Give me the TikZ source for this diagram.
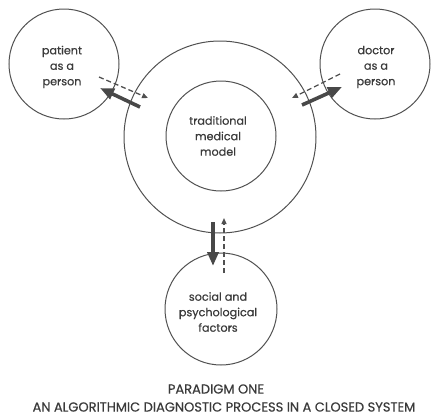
\documentclass[tikz,border=0pt]{standalone}
\usepackage{fontspec}
\setmainfont{Poppins}
\newfontfamily\lblfont{Poppins}[FakeBold=0.5]
\usetikzlibrary{arrows.meta}
\definecolor{ink}{HTML}{505050}
\definecolor{txt}{HTML}{3A3A3A}
\begin{document}
\begin{tikzpicture}[x=1pt,y=-1pt,
  ring/.style={draw=ink,line width=1pt,circle,inner sep=0pt},
  lbl/.style={align=center,text=txt,font=\lblfont\fontsize{11.2}{15.5}\selectfont},
  titletext/.style={text=txt,font=\lblfont\fontsize{13}{15}\selectfont},
  bigarrow/.style={draw=ink!90!black,line width=3.6pt,-{Triangle[length=14pt,width=11pt]}},
  dasharrow/.style={draw=ink,line width=1.3pt,dash pattern=on 5pt off 3pt,-{Triangle[length=6pt,width=5pt]}}]
\useasboundingbox (0,0) rectangle (431,418);
\node[ring,minimum size=110pt] (patient) at (64,64) {};
\node[ring,minimum size=110pt] (doctor) at (375,64) {};
\node[ring,minimum size=192pt] (outer) at (220,137) {};
\node[ring,minimum size=110pt] (inner) at (221,136) {};
\node[ring,minimum size=112pt] (social) at (221,309) {};
\node[lbl] (tp) at (62,67) {patient\\as a\\person};
\node[lbl] (td) at (376,67) {doctor\\as a\\person};
\node[lbl] (ti) at (218,136) {traditional\\medical\\model};
\node[lbl] (ts) at (218,312) {social and\\psychological\\factors};
\coordinate (pa1) at (140,107); \coordinate (pa2) at (100,88);
\coordinate (pb1) at (99,77);   \coordinate (pb2) at (148,98);
\coordinate (da1) at (302,105); \coordinate (da2) at (342,87);
\coordinate (db1) at (340,74);  \coordinate (db2) at (292,98);
\coordinate (sa1) at (213,222); \coordinate (sa2) at (213,266);
\coordinate (sb1) at (224,273); \coordinate (sb2) at (224,218);
\draw[bigarrow] (pa1) -- (pa2);
\draw[dasharrow] (pb1) -- (pb2);
\draw[bigarrow] (da1) -- (da2);
\draw[dasharrow] (db1) -- (db2);
\draw[bigarrow] (sa1) -- (sa2);
\draw[dasharrow] (sb1) -- (sb2);
\node[titletext] (t1) at (216,389) {PARADIGM ONE};
\node[titletext] (t2) at (224,407) {AN ALGORITHMIC DIAGNOSTIC PROCESS IN A CLOSED SYSTEM};
\end{tikzpicture}
\end{document}
